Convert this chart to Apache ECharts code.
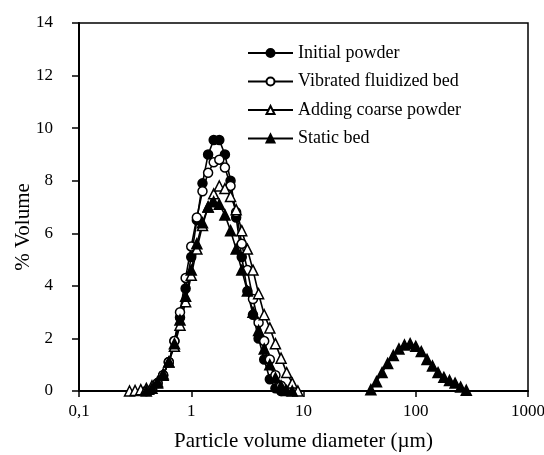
<!DOCTYPE html>
<html>
<head>
    <meta charset="utf-8"/>
    <title>Particle volume diameter</title>
    <script src="https://cdn.jsdelivr.net/npm/echarts@6/dist/echarts.min.js"></script>
    <style>
        html, body { margin: 0; padding: 0; background: #fff; }
        #chart { width: 544px; height: 455px; }
    </style>
</head>
<body>
<div id="chart"></div>
<script type="text/javascript">
    // diameters (um) of the fine peak, log grid
    const diameters = [0.282, 0.316, 0.355, 0.398, 0.447, 0.501, 0.562, 0.631, 0.708, 0.794, 0.891, 1.0,
        1.122, 1.259, 1.413, 1.585, 1.778, 1.995, 2.239, 2.512, 2.818, 3.162, 3.548, 3.981, 4.467,
        5.012, 5.623, 6.31, 7.079, 7.943, 8.913];
    const initialPowder = [null, null, null, 0, 0.05, 0.3, 0.6, 1.1, 1.9, 2.8, 3.9, 5.1,
        6.5, 7.9, 9.0, 9.55, 9.55, 9.0, 8.0, 6.6, 5.1, 3.8, 2.9, 2.0, 1.2,
        0.45, 0.1, 0, null, null, null];
    const vibratedBed = [null, null, null, 0, 0.05, 0.3, 0.6, 1.1, 1.9, 3.0, 4.3, 5.5,
        6.6, 7.6, 8.3, 8.7, 8.8, 8.5, 7.8, 6.8, 5.6, 4.6, 3.5, 2.6, 1.9,
        1.2, 0.6, 0.2, 0, null, null];
    const addingCoarse = [0, 0.02, 0.05, 0.1, 0.2, 0.35, 0.65, 1.1, 1.7, 2.5, 3.4, 4.4,
        5.4, 6.3, 7.0, 7.5, 7.8, 7.7, 7.4, 6.9, 6.1, 5.4, 4.6, 3.7, 2.9,
        2.4, 1.8, 1.25, 0.7, 0.3, 0];
    const staticBed = [null, null, null, 0, 0.1, 0.3, 0.6, 1.1, 1.8, 2.7, 3.6, 4.6,
        5.6, 6.4, 7.0, 7.2, 7.1, 6.7, 6.1, 5.4, 4.6, 3.8, 3.0, 2.3, 1.6,
        1.0, 0.5, 0.2, 0.02, 0, null];
    // coarse peak of the static bed
    const coarseDiameters = [39.8, 44.7, 50.1, 56.2, 63.1, 70.8, 79.4, 89.1, 100, 112, 126, 141,
        158, 178, 200, 224, 251, 282];
    const staticBedCoarse = [0.05, 0.35, 0.7, 1.05, 1.35, 1.6, 1.75, 1.8, 1.7, 1.5, 1.2, 0.95,
        0.7, 0.52, 0.4, 0.3, 0.15, 0.03];

    const xTicks = [0.1, 1, 10, 100, 1000];
    const yTicks = [0, 2, 4, 6, 8, 10, 12, 14];

    const seriesNames = ['Initial powder', 'Vibrated fluidized bed', 'Adding coarse powder', 'Static bed'];

    let pairs = function (xs, ys) {
        return xs.map(function (x, i) { return [x, ys[i]]; })
            .filter(function (p) { return p[1] !== null; });
    };

    let makeSeries = function (name, data, symbol, filled) {
        return {
            name: name,
            type: 'line',
            data: data,
            symbol: symbol,
            symbolSize: symbol === 'triangle' ? 10 : 9,
            showAllSymbol: true,
            lineStyle: {color: '#000', width: 1.6},
            itemStyle: {color: filled ? '#000' : '#fff', borderColor: '#000', borderWidth: 1.5},
            emphasis: {disabled: true},
            animation: false
        };
    };

    const font = 'Liberation Serif';
    let chart = echarts.init(document.getElementById('chart'));
    chart.setOption({
        backgroundColor: '#fff',
        animation: false,
        grid: {
            left: 79, right: 16, top: 23, bottom: 64,
            outerBoundsMode: 'none',
            show: true, borderColor: '#000', borderWidth: 1.5
        },
        legend: {
            orient: 'vertical',
            left: 247,
            top: 44,
            padding: 0,
            itemWidth: 45,
            itemHeight: 10,
            itemGap: 10.5,
            data: seriesNames,
            textStyle: {fontFamily: font, fontSize: 18, color: '#000'}
        },
        xAxis: {
            type: 'log',
            logBase: 10,
            min: xTicks[0],
            max: xTicks[xTicks.length - 1],
            splitLine: {show: false},
            minorTick: {show: false},
            axisLine: {lineStyle: {color: '#000', width: 2}},
            axisTick: {show: true, length: 6, lineStyle: {color: '#000', width: 1.5}},
            axisLabel: {
                fontFamily: font, fontSize: 17, color: '#000', margin: 12,
                formatter: function (v) { return String(v).replace('.', ','); }
            },
            name: 'Particle volume diameter (\u00b5m)',
            nameLocation: 'middle',
            nameGap: 40,
            nameTextStyle: {fontFamily: font, fontSize: 21, color: '#000'}
        },
        yAxis: {
            type: 'value',
            min: yTicks[0],
            max: yTicks[yTicks.length - 1],
            interval: 2,
            splitLine: {show: false},
            axisLine: {show: true, lineStyle: {color: '#000', width: 2}},
            axisTick: {show: true, length: 7, lineStyle: {color: '#000', width: 1.5}},
            axisLabel: {fontFamily: font, fontSize: 17, color: '#000', margin: 26}
        },
        graphic: [{
            type: 'text',
            x: 23,
            y: 227,
            rotation: Math.PI / 2,
            style: {
                text: '% Volume',
                fontFamily: font,
                fontSize: 21,
                fill: '#000',
                align: 'center',
                verticalAlign: 'middle'
            }
        }],
        series: [
            makeSeries(seriesNames[0], pairs(diameters, initialPowder), 'circle', true),
            makeSeries(seriesNames[1], pairs(diameters, vibratedBed), 'circle', false),
            makeSeries(seriesNames[2], pairs(diameters, addingCoarse), 'triangle', false),
            makeSeries(seriesNames[3], pairs(diameters, staticBed), 'triangle', true),
            makeSeries(seriesNames[3], pairs(coarseDiameters, staticBedCoarse), 'triangle', true)
        ]
    });
</script>
</body>
</html>
